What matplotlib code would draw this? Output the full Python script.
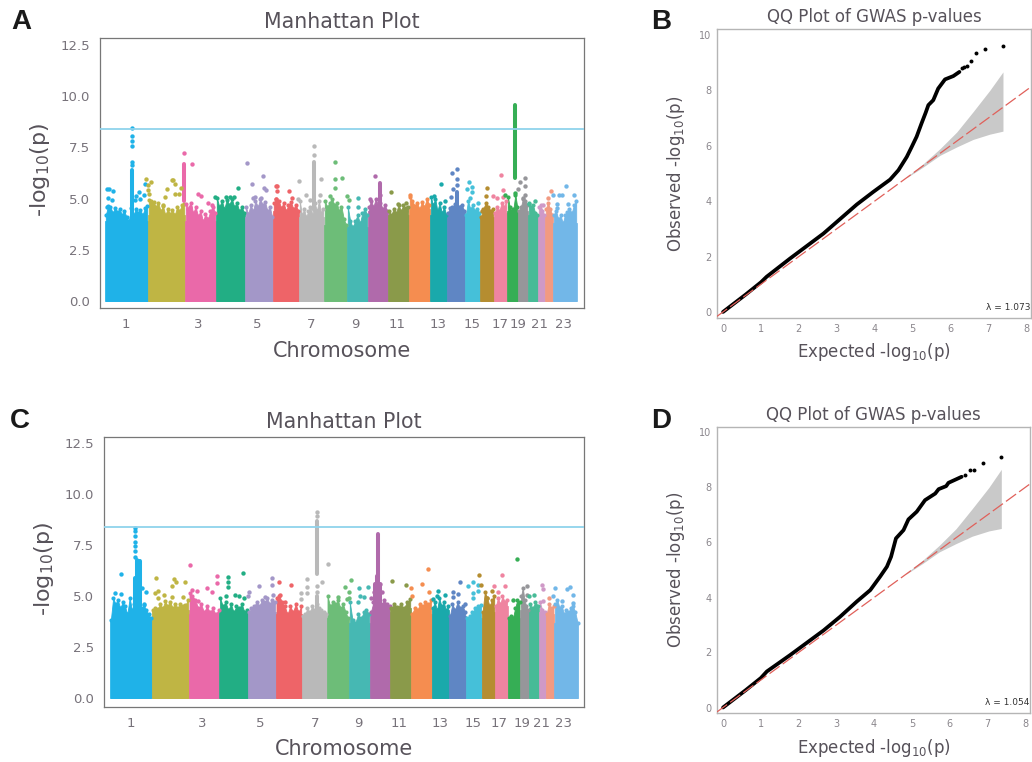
import numpy as np
import matplotlib
matplotlib.use("Agg")
import matplotlib.pyplot as plt

W, H = 1032, 762
plt.rcParams['font.family'] = ['DejaVu Sans']
plt.rcParams['mathtext.default'] = 'regular'

colors = ['#1fb2e8','#bfb544','#ea69a9','#22ae84','#a397c8','#ee6468','#b9b9b9','#6dbd78',
          '#46b8b3','#b06aab','#8a9a4a','#f58d50','#1aa9ab','#5f86c4','#45c0d9','#b58d30',
          '#ef84a0','#36ae55','#96969a','#47bb97','#cf99c7','#f29a82','#72b7e8']
tick_names = ['1','3','5','7','9','11','13','15','17','19','21','23']
threshold = 8.4

# ---- Panel A ----
a_edges = [0,43,80,111,140,168,194,219,242,263,283,304,325,342,360,375,389,402,413,423,433,440,448,472]
a_ticks = [21,93,152,206,250,292,333,367,395,413,435,458]
a_env = [
 [4.2,4.65,4.6,4.3,4.55,4.35,4.5,4.2,4.4,4.1,3.9,4.55,4.2,4.5,4.3,4.45,4.2,4.55,4.65],
 [4.95,4.9,4.85,4.6,4.8,4.4,4.65,4.2,4.5,4.25,4.45,4.2,4.6,4.4,4.7,4.75],
 [4.75,4.5,4.8,4.3,4.6,4.15,4.4,3.9,4.25,4.0,4.4,4.6,4.3],
 [5.05,4.6,4.9,4.5,4.95,4.7,5.0,4.6,4.8,4.4,4.6,4.3],
 [4.6,4.25,4.7,4.4,4.9,4.6,5.0,4.7,4.85,4.4,4.6,4.1],
 [4.8,5.0,4.9,4.55,4.8,4.4,4.7,4.85,4.5,4.7,4.4],
 [4.9,4.2,4.5,4.1,4.4,4.6,4.2,4.8,4.4,4.9,4.3,4.5],
 [4.9,4.6,4.8,5.0,4.7,4.8,4.4,4.6,4.0,3.7],
 [4.6,3.9,3.6,3.9,4.2,3.8,4.3,4.5,4.2],
 [4.6,4.9,4.6,5.0,4.7,4.8,4.5,4.7,4.4],
 [4.4,4.2,4.5,4.3,4.7,4.4,4.7,4.4,4.6],
 [5.1,4.9,4.65,4.8,4.5,4.85,4.6,5.0,4.7],
 [5.1,4.7,5.0,4.4,4.8,4.3,4.6,4.2],
 [4.3,4.55,4.6,4.75,4.55,4.6,4.7,4.4],
 [4.2,4.9,4.5,4.7,4.4,4.5,4.3],
 [4.1,4.5,4.8,4.6,4.4,4.5],
 [4.3,4.6,4.4,4.8,4.6,4.9],
 [5.1,4.6,4.4,4.5,5.2,4.6],
 [4.4,4.6,5.0,4.9,4.7],
 [4.8,4.6,4.7,4.3,4.2],
 [4.6,4.7,4.4,4.2],
 [4.5,4.8,4.5,4.2],
 [4.2,4.4,4.0,4.2,3.8,4.2,4.35,4.5,4.3,4.7,4.9],
]
a_points = [
 [(2.3,5.45),(4.3,5.45),(8.3,5.39),(3.3,5.01),(6.7,4.93),(2,4.6),(30,4.93),(34,5.31),(30.7,5.14),(35,4.96),(40,5.7),(39.3,5.18),(26.7,6.64),(26.7,6.8),(26.7,7.58),(26.7,7.81),(26.7,8.06),(26.7,8.46)],
 [(41,5.96),(45.7,5.83),(42.7,5.66),(43.3,5.42),(44.3,5.21),(62.3,5.45),(60.3,5.06),(66.7,5.91),(68.3,5.91),(70.3,5.73),(70,5.22),(74.3,5.22),(76,5.5),(57.7,4.69)],
 [(78.7,7.24),(87,6.69),(93.3,5.21),(96,5.13),(85,4.6),(103.3,4.77),(106.7,4.69)],
 [(132.7,5.53),(110,5.09),(121,5.09),(125,5.09),(129,5.09)],
 [(142.3,6.72),(147.3,5.71),(157.7,6.09),(159,5.5),(160.7,5.4),(150,5.09),(147.7,5.03),(155.7,5.01)],
 [(171,5.63),(172.3,5.63),(172,5.39),(184.3,5.37),(186.7,5.01),(171,4.96)],
 [(209,7.13),(209,7.57),(194,5.84),(201.3,5.19),(216,5.94),(205,4.93),(215,5.18),(193.3,4.96)],
 [(229.7,6.8),(229.7,5.94),(229.7,5.53),(225,5.13),(236.7,6.0),(241.7,5.13),(244,4.93)],
 [(252.7,5.01),(252.7,4.6)],
 [(270.3,6.12),(264.7,5.0),(275,5.2)],
 [(286.3,5.34),(300.7,4.77),(293.3,4.74),(300.7,4.55)],
 [(305,5.2)],
 [(335.7,5.71),(329.3,5.13),(340,4.9)],
 [(352,6.46),(346.7,6.23),(352,5.94),(352,5.66),(347.7,5.45),(345.7,5.09),(355,4.6)],
 [(364,5.79),(367.3,5.58),(362.3,5.45),(367,5.34),(365,5.01),(373.3,4.8)],
 [(381.7,5.5),(381.3,5.13),(376.7,4.41)],
 [(396,6.14),(398.3,5.42),(387.7,5.14),(392.3,5.01),(398.3,5.09)],
 [(410,5.26),(400,5.2)],
 [(415.3,5.79),(419.7,5.99),(420.3,5.63),(413.3,5.47),(420.3,5.18),(417.7,5.01)],
 [(430,4.88),(424,4.74)],
 [(437.7,4.69)],
 [(445.7,5.39),(443.3,5.05)],
 [(460.7,5.63),(448.3,5.19),(454.3,5.19),(456.7,5.19),(469,5.18),(452.3,4.74),(463.3,4.74),(452.3,4.55)],
]
a_col_chr = [0,2,6,9,13,17]
a_col_x = [26.7,78.7,209,275,352,410]
a_col_lo = [4.0,4.9,4.44,4.6,4.4,5.99]
a_col_hi = [6.4,6.7,6.8,5.75,5.3,9.59]

# ---- Panel C ----
c_edges = [0,41.7,78.7,109.3,138,165.7,192,216.7,239,260,280.3,301,321.7,339,356,371.7,385,397.7,410.3,418.7,429,435.7,444.3,468.3]
c_ticks = [21,92,150,205,248,289,330,363,389,412,431,454]
c_env = [
 [3.8,4.9,4.6,4.8,4.4,4.7,4.5,4.1,4.9,4.3,4.6,4.2,4.5,4.4,4.55,4.3,4.1,3.9],
 [4.3,4.4,4.35,4.6,4.4,4.75,4.5,4.7,4.4,4.6,4.4,4.6,4.5,4.55,4.8],
 [5.15,5.0,4.8,4.4,4.6,4.2,4.5,4.2,4.4,4.1,4.3],
 [4.9,4.5,4.7,4.3,4.6,4.2,4.5,4.4,4.6,4.2,4.3],
 [4.2,4.4,4.5,4.7,4.5,4.8,4.7,4.9,4.6,4.8,4.7],
 [4.9,5.0,4.7,4.5,4.1,4.5,4.2,4.6,4.2,4.5],
 [4.0,4.1,4.4,4.2,4.5,4.3,4.6,4.4,4.3,4.2,4.1],
 [5.0,4.5,4.7,4.6,4.8,4.4,4.6,4.2,3.9],
 [4.7,3.8,3.7,4.1,3.9,4.2,4.3,4.1],
 [4.2,4.7,4.8,4.9,4.6,4.8,4.6,4.5],
 [4.4,4.6,4.45,4.6,4.4,4.7,4.85],
 [4.1,4.4,4.3,4.6,4.5,4.7,4.6,4.8],
 [4.4,4.7,4.3,4.9,4.5,4.7,4.3,4.5],
 [4.0,4.6,4.3,4.7,4.4,4.5,4.2],
 [3.9,4.0,4.2,4.4,4.5,4.55],
 [4.2,5.2,4.9,4.5,4.8,5.0],
 [4.5,4.9,4.6,5.0,4.7,4.8],
 [3.9,4.0,3.9,4.4,4.8,4.7],
 [5.0,5.4,4.8,4.5,4.3],
 [4.6,4.4,4.7,4.5],
 [4.7,4.3,4.2],
 [4.1,4.6,4.4,4.5],
 [4.6,4.8,4.4,4.5,4.1,4.3,4.2,4.4,4.5,4.2,3.7],
]
c_points = [
 [(25.3,8.33),(25.3,8.17),(25.3,7.92),(25.3,7.66),(25.3,7.47),(25.3,7.19),(25.3,6.9),(10.7,6.08),(5,5.15),(10.7,5.1),(31.7,5.39),(35.7,5.21),(34.3,4.6)],
 [(46,5.87),(64.3,5.83),(65.7,5.67),(61.7,5.47),(74.7,5.67),(48.3,5.23),(45,5.13),(54,5.07),(61.7,4.97),(48.3,4.89),(72.7,4.93)],
 [(79.7,6.52),(97.3,5.41),(106.7,5.96),(106.7,5.64),(101.7,5.21),(81.7,5.29),(86.7,5.26),(88.3,4.75)],
 [(133,6.14),(118,5.92),(118,5.67),(118,5.42),(125,5.07),(129.3,5.02),(134,4.9),(116,5.02)],
 [(149.3,5.47),(162.3,5.88),(162.3,5.54),(139.3,5.18),(138.3,5.02),(163.3,5.07),(155,4.97)],
 [(169.3,5.7),(181.3,5.54),(170,5.07),(175,4.7)],
 [(206.7,9.1),(206.7,8.94),(206.7,5.5),(206.7,5.2),(218.3,6.55),(212,5.67),(196.7,5.83),(197.3,5.42),(196.7,5.15),(190.7,5.15),(190.7,4.85)],
 [(228.3,4.93),(235,5.44),(241,5.78),(239.3,5.18),(239.3,4.9),(237.3,4.85)],
 [(249.3,5.38),(257.7,5.46),(250,5.02),(254,4.97),(248.3,4.69)],
 [(261,4.89),(266,5.6),(270,5.6),(264,5.2),(272,5.2)],
 [(281.7,5.74),(295.7,5.52)],
 [(318,6.31),(312,5.59),(301,5.39),(302.3,5.0),(318.7,5.18)],
 [(327.7,5.23),(323.3,4.85),(335,5.05),(326.7,5.02)],
 [(350,5.69),(343.3,5.18),(348.3,5.11),(343.3,4.97),(355,4.6)],
 [(363,5.67),(358.3,5.47),(368.3,5.54),(362.7,5.15),(368.3,5.26),(363.3,4.89)],
 [(369.3,6.03),(370.7,5.54),(381.7,5.26),(376.7,4.9)],
 [(392,6.05),(384,5.5),(395,5.5),(388.3,5.18)],
 [(407,6.8),(403.3,4.82)],
 [(417.3,5.5),(416.7,5.07),(412.7,4.5)],
 [(424,5.05),(419.3,5.02)],
 [(432.3,5.56),(433.3,5.34),(432.7,4.77)],
 [(439,4.89)],
 [(445,5.38),(460,5.42),(456.7,5.34),(462.7,5.07),(443.3,5.0),(451.7,4.75),(463.3,4.66)],
]
c_col_chr = [0,0,0,0,6,6,9,9,9,9]
c_col_x = [27,28.5,30,25.3,206.7,206.7,268,265,270,266.5]
c_col_lo = [3.8,4.0,4.5,4.0,6.08,4.2,4.4,4.5,4.5,4.5]
c_col_hi = [6.76,6.7,6.7,5.9,8.69,5.0,8.04,5.6,5.6,6.0]

# ---- QQ panels ----
b_exp = [0,0.6,1.0,1.15,1.77,2.65,3.53,3.97,4.2,4.41,4.63,4.85,4.98,5.11,5.24,5.35,5.42,5.55,5.68,5.86,6.08,6.24]
b_obs = [0,0.63,1.07,1.27,1.93,2.83,3.88,4.34,4.57,4.78,5.12,5.6,5.96,6.33,6.81,7.2,7.47,7.65,8.07,8.4,8.52,8.67]
b_tail_exp = [6.3,6.36,6.43,6.54,6.69,6.91,7.39]
b_tail_obs = [8.8,8.83,8.9,9.08,9.37,9.48,9.59]
b_band_x = [4.85,5.29,5.73,6.17,6.6,7.04,7.39]
b_band_hi = [4.88,5.36,5.9,6.5,7.23,8.0,8.67]
b_band_lo = [4.85,5.24,5.66,5.96,6.23,6.42,6.53]

d_exp = [0,0.6,1.0,1.16,1.78,2.66,3.1,3.54,3.9,4.16,4.34,4.45,4.51,4.58,4.78,4.91,5.13,5.35,5.62,5.71,5.91,5.97,6.32]
d_obs = [0,0.63,1.07,1.31,1.91,2.8,3.3,3.85,4.27,4.76,5.12,5.48,5.79,6.15,6.45,6.84,7.12,7.54,7.78,7.94,8.05,8.17,8.39]
d_tail_exp = [6.41,6.53,6.66,6.89,7.37]
d_tail_obs = [8.47,8.63,8.63,8.9,9.1]
d_band_x = [4.85,5.29,5.73,6.17,6.6,7.04,7.37]
d_band_hi = [4.88,5.36,5.9,6.5,7.23,8.0,8.66]
d_band_lo = [4.85,5.24,5.66,5.96,6.23,6.42,6.51]

fig = plt.figure(figsize=(W/100, H/100), dpi=100, facecolor='white')

def axes_px(l, t, r, b):
    return fig.add_axes([l/W, 1-b/H, (r-l)/W, (b-t)/H])

def manhattan(box, xlim, ylim, edges, env, points, col_chr, col_x, col_lo, col_hi, ticks,
              title_y, xlabel_y, ylabel_x):
    ax = axes_px(*box)
    for i, vals in enumerate(env):
        xs = np.linspace(edges[i]+0.8, edges[i+1]-0.8, len(vals))
        ax.fill_between(xs, 0, vals, color=colors[i], lw=0.6, zorder=2)
        ax.fill_between([edges[i], edges[i+1]], 0, min(vals), color=colors[i], lw=0.5, zorder=2)
        ax.scatter(xs, vals, s=9, color=colors[i], lw=0, zorder=3)
    for c, x, lo, hi in zip(col_chr, col_x, col_lo, col_hi):
        ax.vlines(x, lo, hi, color=colors[c], lw=2.9, capstyle='round', zorder=3)
    for i, pts in enumerate(points):
        ax.scatter([p[0] for p in pts], [p[1] for p in pts], s=10, color=colors[i], lw=0, zorder=4)
    ax.axhline(threshold, color='#8fd3ec', lw=1.3, zorder=5)
    ax.set_xlim(*xlim); ax.set_ylim(*ylim)
    ax.set_xticks(ticks); ax.set_xticklabels(tick_names)
    ax.set_yticks([0,2.5,5,7.5,10,12.5])
    ax.set_yticklabels(['0.0','2.5','5.0','7.5','10.0','12.5'])
    ax.tick_params(length=0, labelsize=9.5, labelcolor='#77727a', pad=7)
    for s in ax.spines.values():
        s.set_color('#777777'); s.set_linewidth(0.9)
    cx = (box[0]+box[2])/2
    fig.text(cx/W, 1-title_y/H, 'Manhattan Plot', ha='center', va='center', fontsize=14.8, color='#57525a')
    fig.text(cx/W, 1-xlabel_y/H, 'Chromosome', ha='center', va='center', fontsize=15, color='#57525a')
    fig.text(ylabel_x/W, 1-(box[1]+box[3]-6)/2/H, '-log$_{10}$(p)', rotation=90, ha='center', va='center',
             fontsize=16, color='#57525a')

def qq(box, xlim, ylim, ex, ob, tx, ty, bx, bh, bl, lam, title_y, xlabel_y, ylabel_x):
    ax = axes_px(*box)
    ax.fill_between(bx, bl, bh, color='#c9c9c9', lw=0, zorder=2)
    ax.plot(ex, ob, color='black', lw=2.7, solid_capstyle='round', solid_joinstyle='round', zorder=3)
    ax.scatter(tx, ty, s=8, color='black', lw=0, zorder=4)
    ax.plot(xlim, xlim, color='#e0605a', lw=0.9, dashes=(10, 3), zorder=5)
    ax.set_xlim(*xlim); ax.set_ylim(*ylim)
    ax.set_xticks(range(0,9)); ax.set_yticks(range(0,11,2))
    ax.tick_params(length=0, labelsize=7, labelcolor='#8a868c', pad=4)
    for s in ax.spines.values():
        s.set_color('#b5b5b5'); s.set_linewidth(1.0)
    ax.text(0.997, 0.035, lam, transform=ax.transAxes, ha='right', va='center', fontsize=6.5, color='#333333')
    cx = (box[0]+box[2])/2
    fig.text(cx/W, 1-title_y/H, 'QQ Plot of GWAS p-values', ha='center', va='center', fontsize=12, color='#57525a')
    fig.text(cx/W, 1-xlabel_y/H, 'Expected -log$_{10}$(p)', ha='center', va='center', fontsize=12, color='#57525a')
    fig.text(ylabel_x/W, 1-(box[1]+box[3])/2/H, 'Observed -log$_{10}$(p)', rotation=90, ha='center', va='center',
             fontsize=12, color='#57525a')

manhattan((100,38,584,308), (-5,479), (-0.34,12.84), a_edges, a_env, a_points, a_col_chr, a_col_x, a_col_lo, a_col_hi, a_ticks, 22, 351, 40)
manhattan((104,437,584,707), (-6,474), (-0.44,12.79), c_edges, c_env, c_points, c_col_chr, c_col_x, c_col_lo, c_col_hi, c_ticks, 422, 749, 44)
qq((717,29,1031,318), (-0.16,8.13), (-0.22,10.22), b_exp, b_obs, b_tail_exp, b_tail_obs, b_band_x, b_band_hi, b_band_lo, 'λ = 1.073', 17, 352, 676)
qq((717,427,1030,713), (-0.16,8.13), (-0.2,10.2), d_exp, d_obs, d_tail_exp, d_tail_obs, d_band_x, d_band_hi, d_band_lo, 'λ = 1.054', 415, 748, 676)

for label, x, y in [('A',21,22),('B',661,22),('C',20,421),('D',661,421)]:
    fig.text(x/W, 1-y/H, label, ha='center', va='center', fontsize=20, fontweight='bold',
             family='Liberation Sans', color='#1a1a1a')

fig.savefig('out.png', dpi=100)
